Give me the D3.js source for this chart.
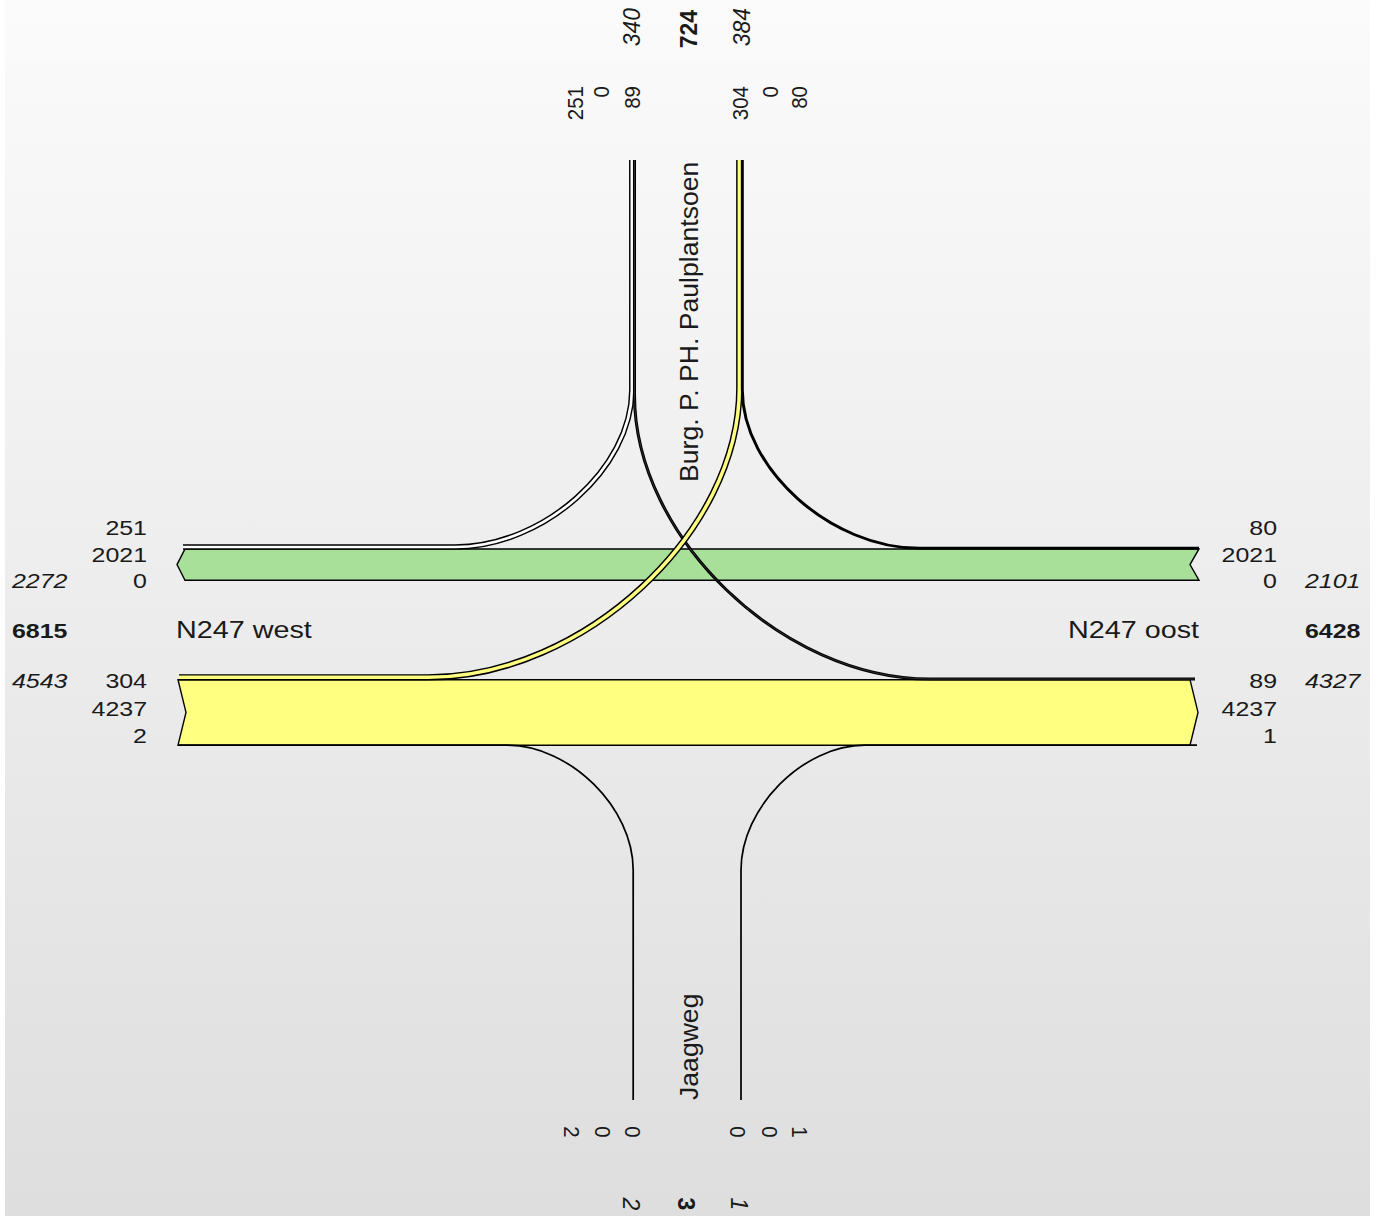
<!DOCTYPE html>
<html><head><meta charset="utf-8">
<script src="https://cdn.jsdelivr.net/npm/d3@7"></script>
<style>html,body{margin:0;padding:0;background:#fff;} svg{display:block;}</style>
</head><body>
<svg id="chart" width="1378" height="1216"></svg>
<script>
// ---------------- DATA ----------------
const approachNames = ["N247 west", "N247 oost", "Burg. P. PH. Paulplantsoen", "Jaagweg"];
const destinations  = ["west", "north", "east", "south"];
// origin-destination volumes, one row per origin, columns follow `destinations`
const fromWest  = [0, 304, 4237, 2];
const fromNorth = [251, 0, 89, 0];
const fromEast  = [2021, 80, 0, 0];
const fromSouth = [0, 0, 1, 0];
const originColors = { west: "#ffff80", north: "#ffffff", east: "#a8e09a", south: "#d0d0ff" };

// ---------------- HELPERS ----------------
const W = 0, N = 1, E = 2, S = 3;
const svg = d3.select("#chart");
const FONT = "'Liberation Sans', Arial, Helvetica, sans-serif";
const wScale = d3.scaleLinear().domain([0, 4237]).range([0, 65.5]);

// background
const defs = svg.append("defs");
const grad = defs.append("linearGradient").attr("id", "bg").attr("x1", 0).attr("y1", 0).attr("x2", 0).attr("y2", 1);
grad.append("stop").attr("offset", "0%").attr("stop-color", "#fbfbfb");
grad.append("stop").attr("offset", "100%").attr("stop-color", "#dedede");
svg.append("rect").attr("x", 5).attr("y", 0).attr("width", 1365).attr("height", 1216).attr("fill", "url(#bg)");

// layout anchors
const cx = 686.5, cy = 630;
const xWest = 177, xEast = 1199, tip = 9;
const wbBottom = cy - 49.8;                       // westbound through band bottom
const wbTop = wbBottom - wScale(fromEast[W]);     // westbound through band top
const ebTop = cy + 49.7;                          // eastbound through band top
const ebBottom = ebTop + wScale(fromWest[E]);
const xNL = 633.8, xNR = 741.7, xSL = 633.2, xSR = 741.0;
const yNorthEnd = 160, ySouthEnd = 1100;

// through bands
const gBands = svg.append("g");
function bandWest(yt, yb) { // arrowhead at west, notch at east
  const m = (yt + yb) / 2;
  return [[xWest + tip - 1, yt], [xEast, yt], [xEast - tip, m], [xEast, yb], [xWest + tip - 1, yb], [xWest, m]];
}
function bandEast(yt, yb) { // notch at west, arrowhead at east
  const m = (yt + yb) / 2;
  return [[xWest + 1, yt], [xEast - tip, yt], [xEast - 1, m], [xEast - tip, yb], [xWest + 1, yb], [xWest + tip, m]];
}
const line = d3.line();
gBands.append("path").attr("d", line(bandWest(wbTop, wbBottom)) + "Z")
  .attr("fill", originColors.east).attr("stroke", "#000").attr("stroke-width", 1.4);
gBands.append("path").attr("d", line(bandEast(ebTop, ebBottom)) + "Z")
  .attr("fill", originColors.west).attr("stroke", "#000").attr("stroke-width", 1.4);

// turning ribbons
function corner(ctx, A, B) { // from A (vertical tangent) to B (horizontal tangent)
  ctx.bezierCurveTo(A[0], A[1] + 0.5 * (B[1] - A[1]), B[0] + 0.5 * (A[0] - B[0]), B[1], B[0], B[1]);
}
function cornerRev(ctx, B, A) { // from B (horizontal tangent) to A (vertical tangent)
  ctx.bezierCurveTo(B[0] + 0.5 * (A[0] - B[0]), B[1], A[0], A[1] + 0.5 * (B[1] - A[1]), A[0], A[1]);
}
const ribbons = [];
// north -> west
{ const w = wScale(fromNorth[W]); const ax = xNL - w / 2, by = wbTop - w / 2;
  const p = d3.path(); p.moveTo(ax, yNorthEnd); p.lineTo(ax, 390); corner(p, [ax, 390], [455, by]); p.lineTo(xWest + 6, by);
  ribbons.push({ d: p.toString(), w, color: originColors.north }); }
// north -> east
{ const w = wScale(fromNorth[E]); const ax = xNL + wScale(fromNorth[S]) + w / 2, by = ebTop - w / 2;
  const p = d3.path(); p.moveTo(ax, yNorthEnd); p.lineTo(ax, 395); corner(p, [ax, 395], [930, by]); p.lineTo(xEast - 4, by);
  ribbons.push({ d: p.toString(), w, color: originColors.north }); }
// west -> north
{ const w = wScale(fromWest[N]); const ax = xNR - w / 2, by = ebTop - w / 2;
  const p = d3.path(); p.moveTo(xWest + 2, by); p.lineTo(428, by); cornerRev(p, [428, by], [ax, 388]); p.lineTo(ax, yNorthEnd);
  ribbons.push({ d: p.toString(), w, color: originColors.west }); }
// east -> north
{ const w = wScale(fromEast[N]); const ax = xNR + wScale(fromSouth[N]) + w / 2, by = wbTop - w / 2;
  const p = d3.path(); p.moveTo(xEast, by); p.lineTo(920, by); cornerRev(p, [920, by], [ax, 390]); p.lineTo(ax, yNorthEnd);
  ribbons.push({ d: p.toString(), w, color: originColors.east }); }
// west -> south
{ const w = wScale(fromWest[S]); const ax = xSL - w / 2, by = ebBottom + w / 2;
  const p = d3.path(); p.moveTo(xWest + 2, by); p.lineTo(507, by); cornerRev(p, [507, by], [ax, 870]); p.lineTo(ax, ySouthEnd);
  ribbons.push({ d: p.toString(), w, color: originColors.west }); }
// south -> east
{ const w = wScale(fromSouth[E]); const ax = xSR + w / 2, by = ebBottom + w / 2;
  const p = d3.path(); p.moveTo(ax, ySouthEnd); p.lineTo(ax, 870); corner(p, [ax, 870], [865, by]); p.lineTo(xEast - 2, by);
  ribbons.push({ d: p.toString(), w, color: originColors.south }); }

const gR = svg.append("g").attr("fill", "none");
ribbons.forEach(r => {
  gR.append("path").attr("d", r.d).attr("stroke", "#000").attr("stroke-width", r.w + 1.7);
  if (r.w > 1.3) gR.append("path").attr("d", r.d).attr("stroke", r.color).attr("stroke-width", r.w - 1.2);
});

// ---------------- TEXT ----------------
function txt(x, y, s, o = {}) {
  const sx = o.sx ?? 1.28, rot = o.rot ?? 0;
  svg.append("text")
    .attr("transform", `translate(${x},${y}) scale(${sx},1) rotate(${rot})`)
    .attr("text-anchor", o.anchor || "start")
    .attr("font-family", FONT).attr("font-size", o.size || 19.5)
    .attr("font-weight", o.weight || "normal").attr("font-style", o.style || "normal")
    .attr("fill", "#1a1a1a").text(s);
}
const sum = a => d3.sum(a);
const westIn   = [fromNorth[W], fromEast[W], fromSouth[W]];
const westOut  = [fromWest[N], fromWest[E], fromWest[S]];
const eastOut  = [fromEast[N], fromEast[W], fromEast[S]];
const eastIn   = [fromNorth[E], fromWest[E], fromSouth[E]];
const northOut = [fromNorth[W], fromNorth[S], fromNorth[E]];
const northIn  = [fromWest[N], fromSouth[N], fromEast[N]];
const southIn  = [fromWest[S], fromNorth[S], fromEast[S]];
const southOut = [fromSouth[W], fromSouth[N], fromSouth[E]];

const rowsUpper = [535, 562, 588], rowsLower = [688, 716, 743];
westIn.forEach((v, i) => txt(147, rowsUpper[i], v, { anchor: "end" }));
westOut.forEach((v, i) => txt(147, rowsLower[i], v, { anchor: "end" }));
eastOut.forEach((v, i) => txt(1277, rowsUpper[i], v, { anchor: "end" }));
eastIn.forEach((v, i) => txt(1277, rowsLower[i], v, { anchor: "end" }));
txt(12, 588, sum(westIn), { style: "italic" });
txt(12, 638, sum(westIn) + sum(westOut), { weight: "bold" });
txt(12, 688, sum(westOut), { style: "italic" });
txt(1305, 588, sum(eastOut), { style: "italic" });
txt(1305, 638, sum(eastOut) + sum(eastIn), { weight: "bold" });
txt(1305, 688, sum(eastIn), { style: "italic" });

txt(176, 638, approachNames[0], { size: 23, sx: 1.25 });
txt(1199, 638, approachNames[1], { size: 23, sx: 1.25, anchor: "end" });
txt(698, 482, approachNames[2], { size: 26.6, sx: 1, rot: -90 });
txt(698, 1100, approachNames[3], { size: 26.6, sx: 1, rot: -90 });

// north labels (rotated)
const nOutX = [583, 609, 640], nInX = [748, 778, 807];
const rv = { rot: -90, sx: 1.05, anchor: "end", size: 20.5 };
northOut.forEach((v, i) => txt(nOutX[i], 86, v, rv));
northIn.forEach((v, i) => txt(nInX[i], 86, v, rv));
txt(640, 8, sum(northOut), { rot: -90, sx: 1.05, anchor: "end", size: 23, style: "italic" });
txt(697, 10, sum(northOut) + sum(northIn), { rot: -90, sx: 1.05, anchor: "end", size: 23, weight: "bold" });
txt(750, 8, sum(northIn), { rot: -90, sx: 1.05, anchor: "end", size: 23, style: "italic" });

// south labels (rotated the other way)
const sInX = [564, 595, 625], sOutX = [730, 762, 792];
const sv = { rot: 90, sx: 1.05, anchor: "middle", size: 20.5 };
southIn.forEach((v, i) => txt(sInX[i], 1132, v, sv));
southOut.forEach((v, i) => txt(sOutX[i], 1132, v, sv));
txt(623, 1204, sum(southIn), { rot: 90, sx: 1.05, anchor: "middle", size: 23, style: "italic" });
txt(678, 1204, sum(southIn) + sum(southOut), { rot: 90, sx: 1.05, anchor: "middle", size: 23, weight: "bold" });
txt(731, 1204, sum(southOut), { rot: 90, sx: 1.05, anchor: "middle", size: 23, style: "italic" });
</script>
</body></html>
